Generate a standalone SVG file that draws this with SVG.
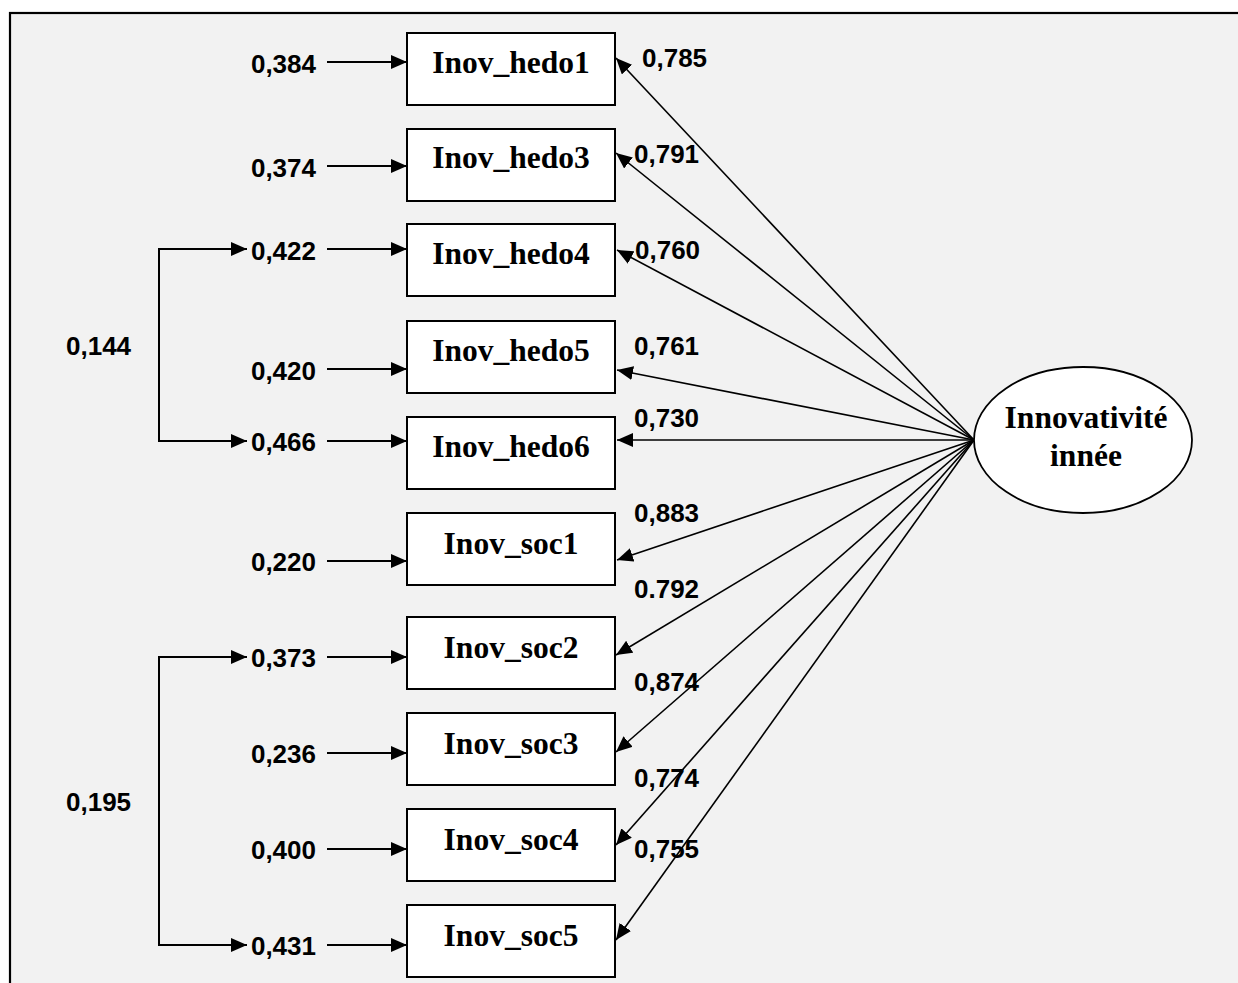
<svg xmlns="http://www.w3.org/2000/svg" width="1238" height="983" viewBox="0 0 1238 983">
<style>
.box{fill:#fff;stroke:#000;stroke-width:2}
.ell{fill:#fff;stroke:#000;stroke-width:1.8}
.nt{font-family:"Liberation Serif","Times New Roman",serif;font-weight:bold;font-size:31.5px;text-anchor:middle;fill:#000}
.num{font-family:"Liberation Sans",Arial,sans-serif;font-weight:bold;font-size:26px;fill:#000}
.r{text-anchor:end}
.err{stroke:#000;stroke-width:2;fill:none;marker-end:url(#ah)}
.ld{stroke:#000;stroke-width:1.6;fill:none;marker-end:url(#ah)}
.cov{stroke:#000;stroke-width:2;fill:none;marker-start:url(#ahs);marker-end:url(#ah)}
</style>
<defs>
<marker id="ah" viewBox="0 0 16 14" refX="16" refY="7" markerWidth="16" markerHeight="14" markerUnits="userSpaceOnUse" orient="auto"><path d="M0,0 L16,7 L0,14 z" fill="#000"/></marker>
<marker id="ahs" viewBox="0 0 16 14" refX="16" refY="7" markerWidth="16" markerHeight="14" markerUnits="userSpaceOnUse" orient="auto-start-reverse"><path d="M0,0 L16,7 L0,14 z" fill="#000"/></marker>
</defs>
<rect x="0" y="0" width="1238" height="983" fill="#fff"/>
<rect x="10" y="13" width="1240" height="985" fill="#f2f2f2" stroke="#000" stroke-width="2.2"/>

<g id="connectors">
<line class="err" x1="327" y1="62" x2="407" y2="62"/>
<line class="err" x1="327" y1="166" x2="407" y2="166"/>
<line class="err" x1="327" y1="249" x2="407" y2="249"/>
<line class="err" x1="327" y1="369" x2="407" y2="369"/>
<line class="err" x1="327" y1="441" x2="407" y2="441"/>
<line class="err" x1="327" y1="561" x2="407" y2="561"/>
<line class="err" x1="327" y1="657" x2="407" y2="657"/>
<line class="err" x1="327" y1="753" x2="407" y2="753"/>
<line class="err" x1="327" y1="849" x2="407" y2="849"/>
<line class="err" x1="327" y1="945" x2="407" y2="945"/>
<path class="cov" d="M247,249 H159 V441 H247"/>
<path class="cov" d="M247,657 H159 V945 H247"/>
<line class="ld" x1="974" y1="440" x2="616" y2="58"/>
<line class="ld" x1="974" y1="440" x2="616" y2="153"/>
<line class="ld" x1="974" y1="440" x2="617" y2="250"/>
<line class="ld" x1="974" y1="440" x2="617" y2="370"/>
<line class="ld" x1="974" y1="440" x2="617" y2="440"/>
<line class="ld" x1="974" y1="440" x2="617" y2="560"/>
<line class="ld" x1="974" y1="440" x2="616" y2="655"/>
<line class="ld" x1="974" y1="440" x2="616" y2="752"/>
<line class="ld" x1="974" y1="440" x2="616" y2="845"/>
<line class="ld" x1="974" y1="440" x2="616" y2="940"/>
</g>

<g id="error-labels">
<text class="num r" x="316" y="73">0,384</text>
<text class="num r" x="316" y="177">0,374</text>
<text class="num r" x="316" y="260">0,422</text>
<text class="num r" x="316" y="380">0,420</text>
<text class="num r" x="316" y="451">0,466</text>
<text class="num r" x="316" y="571">0,220</text>
<text class="num r" x="316" y="667">0,373</text>
<text class="num r" x="316" y="763">0,236</text>
<text class="num r" x="316" y="859">0,400</text>
<text class="num r" x="316" y="955">0,431</text>
<text class="num" x="66" y="355">0,144</text>
<text class="num" x="66" y="811">0,195</text>
</g>

<g id="loading-labels">
<text class="num" x="642" y="67">0,785</text>
<text class="num" x="634" y="163">0,791</text>
<text class="num" x="635" y="259">0,760</text>
<text class="num" x="634" y="355">0,761</text>
<text class="num" x="634" y="427">0,730</text>
<text class="num" x="634" y="522">0,883</text>
<text class="num" x="634" y="598">0.792</text>
<text class="num" x="634" y="691">0,874</text>
<text class="num" x="634" y="787">0,774</text>
<text class="num" x="634" y="858">0,755</text>
</g>

<g id="Inov_hedo1"><rect class="box" x="407" y="33" width="208" height="72"/><text class="nt" x="511" y="73">Inov_hedo1</text></g>
<g id="Inov_hedo3"><rect class="box" x="407" y="129" width="208" height="72"/><text class="nt" x="511" y="168">Inov_hedo3</text></g>
<g id="Inov_hedo4"><rect class="box" x="407" y="224" width="208" height="72"/><text class="nt" x="511" y="264">Inov_hedo4</text></g>
<g id="Inov_hedo5"><rect class="box" x="407" y="321" width="208" height="72"/><text class="nt" x="511" y="361">Inov_hedo5</text></g>
<g id="Inov_hedo6"><rect class="box" x="407" y="417" width="208" height="72"/><text class="nt" x="511" y="457">Inov_hedo6</text></g>
<g id="Inov_soc1"><rect class="box" x="407" y="513" width="208" height="72"/><text class="nt" x="511" y="554">Inov_soc1</text></g>
<g id="Inov_soc2"><rect class="box" x="407" y="617" width="208" height="72"/><text class="nt" x="511" y="658">Inov_soc2</text></g>
<g id="Inov_soc3"><rect class="box" x="407" y="713" width="208" height="72"/><text class="nt" x="511" y="754">Inov_soc3</text></g>
<g id="Inov_soc4"><rect class="box" x="407" y="809" width="208" height="72"/><text class="nt" x="511" y="850">Inov_soc4</text></g>
<g id="Inov_soc5"><rect class="box" x="407" y="905" width="208" height="72"/><text class="nt" x="511" y="946">Inov_soc5</text></g>

<g id="Innovativite_innee">
<ellipse class="ell" cx="1083" cy="440" rx="109" ry="73"/>
<text class="nt" x="1086" y="428">Innovativité</text>
<text class="nt" x="1086" y="466">innée</text>
</g>
</svg>
